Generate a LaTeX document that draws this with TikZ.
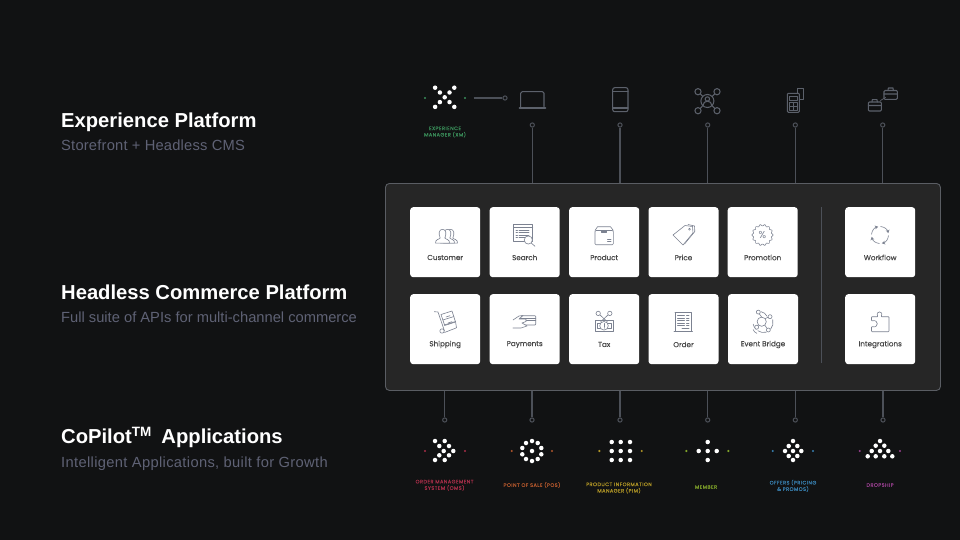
\documentclass[tikz,border=0pt]{standalone}
\usepackage{fontspec}
\setmainfont{Liberation Sans}
\newfontfamily\pop{Poppins}
\usetikzlibrary{arrows.meta,calc}
\definecolor{bgc}{HTML}{111213}
\definecolor{panelc}{HTML}{262626}
\definecolor{edgec}{HTML}{5A5D63}
\definecolor{linec}{HTML}{4C5058}
\definecolor{topic}{HTML}{5C616B}
\definecolor{tilei}{HTML}{7C8291}
\definecolor{subc}{HTML}{5F6275}
\definecolor{xmc}{HTML}{3A8F5A}
\definecolor{omsc}{HTML}{A82E49}
\definecolor{posc}{HTML}{B0562C}
\definecolor{pimc}{HTML}{B09526}
\definecolor{memc}{HTML}{80A32A}
\definecolor{offc}{HTML}{3880B0}
\definecolor{dropc}{HTML}{973F8E}
\tikzset{
  x=1pt,y=-1pt,
  heading/.style={anchor=base west,inner sep=0pt,text=white,font=\fontsize{20.2}{24}\selectfont\bfseries},
  subhead/.style={anchor=base west,inner sep=0pt,text=subc,font=\fontsize{14.7}{18}\selectfont},
  tile/.style={draw=none,fill=white,rounded corners=3pt,minimum width=70pt,minimum height=70pt,inner sep=0pt,anchor=north west},
  tilelabel/.style={inner sep=0pt,text=black!72,font=\pop\fontsize{7.2}{9}\selectfont\addfontfeature{FakeBold=0.3}},
  port/.style={circle,draw=linec,line width=1pt,fill=bgc,minimum size=4.2pt,inner sep=0pt},
  wire/.style={draw=linec,line width=1.4pt},
  logolabel/.style={inner sep=0pt,align=center,font=\pop\fontsize{5}{6.4}\selectfont\addfontfeature{FakeBold=0.15,LetterSpace=9}},
  ic/.style={draw=tilei,line width=.6pt,line join=round,line cap=round},
  ti/.style={draw=topic,line width=1.05pt,line join=round,line cap=round},
}
\newcommand{\wdots}[1]{\foreach \a/\b in {#1}{\fill[white] (\a,\b) circle (2.25);}}
\newcommand{\sdots}[4]{\fill[#1] (#2,#4) circle (1.2); \fill[#1] (#3,#4) circle (1.2);}
\begin{document}
\begin{tikzpicture}
\useasboundingbox (0,0) rectangle (960,540);
\fill[bgc] (0,0) rectangle (960,540);

% left texts
\node[heading] (h1) at (61,127.3) {Experience Platform};
\node[subhead] (s1) at (61,150.7) {\addfontfeature{LetterSpace=1.4}Storefront + Headless CMS};
\node[heading] (h2) at (61,299) {Headless Commerce Platform};
\node[subhead] (s2) at (61,322.3) {Full suite of APIs for multi-channel commerce};
\node[heading] (h3) at (61,443.3) {CoPilot\raisebox{6.5pt}{\fontsize{13.5}{13}\selectfont TM}\hspace{4.5pt} Applications};
\node[subhead] (s3) at (61,467.3) {\addfontfeature{LetterSpace=2.3}Intelligent Applications, built for Growth};

% panel
\node[draw=edgec,fill=panelc,line width=.9pt,rounded corners=4pt,minimum width=555pt,minimum height=207pt,inner sep=0pt,anchor=north west] (panel) at (385,183) {};
\node[inner sep=0pt,minimum width=0pt,minimum height=0pt] (septop) at (821.7,207) {};
\node[inner sep=0pt,minimum width=0pt,minimum height=0pt] (sepbot) at (821.7,363) {};
\draw[linec,line width=1.4pt] (septop) -- (sepbot);

% ports and wires
\foreach \n/\x in {t1/532.3,t2/620,t3/707.7,t4/795.3,t5/882.7}{
  \node[port] (\n) at (\x,125) {};
  \draw[wire] (\n) -- (\n |- panel.north);
}
\foreach \n/\x in {b1/444.7,b2/532,b3/620,b4/707.7,b5/795.3,b6/883}{
  \node[port] (\n) at (\x,420) {};
  \draw[wire] (\n |- panel.south) -- (\n);
}
\node[port] (xmp) at (505,98) {};
\node[inner sep=0pt] (xmw) at (473,98) {};
\draw[wire] (xmw) -- (xmp);

% tiles
\foreach \n/\x/\y/\l in {
 customer/410/207/Customer,search/489.5/207/Search,product/569/207/Product,price/648.3/207/Price,promotion/727.5/207/Promotion,workflow/845/207/Workflow,
 shipping/410/294/Shipping,payments/489.5/294/Payments,tax/569/294/Tax,order/648.3/294/Order,eventb/727.8/294/Event Bridge,integ/845/294/Integrations}{
  \node[tile] (\n) at (\x,\y) {};
  \node[tilelabel] (\n-l) at ($(\n.center)+(0,15.3)$) {\l};
}

% tile icons, row 1
\begin{scope}[shift={(444,235.8)}]
 \foreach \d in {6.5,3.5,-1.5}{
  \draw[ic,fill=white,xshift=\d pt] (-7,7.3) .. controls (-7.5,3.5) and (-3,3.5) .. (-2.3,2.2) .. controls (-4.3,-2) and (-3.5,-6.5) .. (0,-6.5) .. controls (3.5,-6.5) and (4.3,-2) .. (2.3,2.2) .. controls (3,3.5) and (7.5,3.5) .. (7,7.3) -- cycle;
 }
\end{scope}
\begin{scope}[shift={(524,235)}]
 \draw[ic] (-10.7,-10.7) rectangle (8.7,6.7);
 \draw[ic] (-10.7,-7.5) -- (8.7,-7.5);
 \foreach \y in {-5,-2.5,0,2.5}{\draw[ic] (-8,\y) -- (-6.5,\y); \draw[ic] (-5,\y) -- (5,\y);}
 \draw[ic,fill=white] (4.3,5) circle (4.1);
 \draw[ic] (7.2,8) -- (11,11.3);
\end{scope}
\begin{scope}[shift={(604,235)}]
 \draw[ic,rounded corners=1pt] (-9,-4.5) rectangle (9.3,9.7);
 \draw[ic] (-9,-4.5) -- (-6.5,-8.3) -- (6.5,-8.3) -- (9.3,-4.5);
 \draw[ic,fill=tilei] (-2.5,-4.5) rectangle (2.5,-2.8);
 \draw[ic] (3.5,4) -- (7,4) (3.5,6.5) -- (7,6.5);
\end{scope}
\begin{scope}[shift={(683,235)}]
 \draw[ic] (5,-10.5) -- (11.5,-9) -- (11.8,-3.5) -- (1.5,9);
 \draw[ic,fill=white] (-10,0) -- (2,-9.5) -- (9.5,-8.5) -- (10,-2) -- (0,10) -- cycle;
 \draw[ic] (6.5,-5.8) circle (1);
\end{scope}
\begin{scope}[shift={(762.5,235)}]
 \draw[ic] plot[domain=0:360,samples=145,smooth] (\x:{9.8+.75*cos(14*\x)}) -- cycle;
 \node[inner sep=0pt,text=tilei,font=\pop\fontsize{10}{10}\selectfont] (promopct) at (0,0) {\%};
\end{scope}
\begin{scope}[shift={(880,235)}]
 \foreach \s in {5,95,185,275}{
  \draw[ic,-{Stealth[length=3.2pt,width=3.8pt]}] (\s:8.5) arc[start angle=\s,delta angle=72,radius=8.5];
 }
\end{scope}

% tile icons, row 2
\begin{scope}[shift={(445,322)}]
 \draw[ic] (-10.7,-10.3) -- (-7,-10) -- (-.5,9);
 \draw[ic] (-3,9) circle (2.2);
 \draw[ic] (-.5,10.5) -- (11,6);
 \draw[ic] (-4,-7.5) -- (7,-11) -- (10.5,0) -- (-.3,3.5) -- cycle;
 \draw[ic] (-.8,3) -- (10.5,-.5) -- (11.5,5.8);
 \draw[ic] (-2.2,-2) -- (9,-5.5);
 \draw[ic] (1,-5) -- (5,-6.3) (3,1) -- (7,-.3);
\end{scope}
\begin{scope}[shift={(524,322)}]
 \draw[ic,rounded corners=.8pt,fill=white] (-3.3,-6.3) rectangle (11.7,3);
 \draw[ic] (-3.3,-3.5) -- (11.7,-3.5) (-3.3,-2.2) -- (11.7,-2.2);
 \draw[ic,fill=white] (-11,-2) -- (-5,-6) -- (-1,-6.5) -- (-5,-3) -- (2,-3) -- (2,-.5) -- (-2,1) -- (3,4) -- (-3,6) -- (-11,6);
\end{scope}
\begin{scope}[shift={(604,322)}]
 \draw[ic] (-9,-1.5) rectangle (9.3,9);
 \draw[ic] (-7,1) rectangle (7,6.7);
 \draw[ic,fill=white] (0,3.8) circle (4.3);
 \draw[ic] (0,1.5) -- (0,5) (0,6) -- (0,6.2);
 \draw[ic] (-5,-8) -- (3.5,0) (5,-8) -- (-3.5,0);
 \draw[ic,fill=white] (-5.8,-8.6) circle (2.2) (5.8,-8.6) circle (2.2);
\end{scope}
\begin{scope}[shift={(683,322)}]
 \draw[ic] (-8,-9.7) -- (8.7,-9.7) -- (8.7,9) (-8,-9.7) -- (-8,9);
 \draw[ic,line width=.9pt] (-9,9) -- (9.5,9);
 \foreach \y in {-6.5,-4,-1.5,1,3.5}{\draw[ic] (-5.5,\y) -- (1.5,\y); \draw[ic] (3.5,\y) -- (6,\y);}
 \draw[ic] (-1,6.3) -- (6,6.3);
\end{scope}
\begin{scope}[shift={(762.7,322.7)}]
 \draw[ic] (-1,-1) circle (4.6);
 \draw[ic] (-1.6,-11) arc[start angle=-80,delta angle=55,radius=8];
 \draw[ic] (10,-3) arc[start angle=-15,delta angle=55,radius=10.5];
 \draw[ic] (3.5,9.5) arc[start angle=75,delta angle=50,radius=10];
 \draw[ic] (-9.5,1.5) arc[start angle=170,delta angle=-40,radius=9];
 \draw[ic] (-9.5,7) arc[start angle=160,delta angle=-50,radius=6];
 \draw[ic] (-1,-5.6) -- (-3.5,-9) (2.3,-4) -- (5.5,-5.5) (-4.3,2) -- (-5,3) (2,2.5) -- (4.3,5.5);
 \draw[ic,fill=white] (-4.4,-10.6) circle (2);
 \draw[ic,fill=white] (7.3,-6) circle (2);
 \draw[ic,fill=white] (-6,4.5) circle (2);
 \draw[ic,fill=white] (5.6,7.3) circle (2);
\end{scope}
\begin{scope}[shift={(880,322)}]
 \draw[ic,rounded corners=.7pt] (-8.5,-5.3) -- (-2,-5.3) .. controls (-5,-11.5) and (4,-11.5) .. (1,-5.3) -- (9,-5.3) -- (9,9.7) -- (-8.5,9.7) -- (-8.5,4.5) .. controls (-1,6.5) and (-1,-3) .. (-8.5,-1) -- cycle;
\end{scope}

% top icons
\draw[ti,rounded corners=1.5pt] (520.7,106.7) -- (520.7,91.7) -- (544,91.7) -- (544,106.7);
\draw[ti,line width=1.9pt] (519.5,108) -- (545.3,108);
\draw[ti,rounded corners=2pt] (612.7,87.7) rectangle (628,111.7);
\draw[ti] (612.7,91.2) -- (628,91.2) (612.7,108) -- (628,108);
\draw[ti] (707.4,101) circle (6.5);
\draw[ti] (707.4,99) circle (2.2);
\draw[ti] (703,105.5) arc[start angle=180,delta angle=180,radius=4.4];
\foreach \a/\b in {698/91.7,717/91.7,698/110.7,717/110.7}{
  \draw[ti] (\a,\b) circle (3.1);
}
\draw[ti] (700.2,93.9) -- (702.8,96.5) (714.8,93.9) -- (712,96.5) (700.2,108.5) -- (702.8,105.6) (714.8,108.5) -- (712,105.6);
\draw[ti] (797.5,93) -- (797.5,88.3) -- (803.3,88.3) -- (803.3,99.3) -- (799.5,99.3);
\draw[ti,rounded corners=1pt] (787.3,93.3) rectangle (799.3,112.3);
\draw[ti,line width=.7pt] (789.5,96) rectangle (797.2,100.5);
\draw[ti,line width=.7pt] (789.5,102.5) rectangle (797.2,110);
\draw[ti,line width=.7pt] (793.3,102.5) -- (793.3,110) (789.5,106.2) -- (797.2,106.2);
\draw[ti,rounded corners=1pt] (884,90.5) rectangle (897.3,99.3);
\draw[ti] (888,90.5) -- (888.3,88) -- (893,88) -- (893.3,90.5) (884,94) -- (897.3,94);
\draw[ti,rounded corners=1pt] (868.3,102) rectangle (881.3,111);
\draw[ti] (872,102) -- (872.3,99.7) -- (877,99.7) -- (877.3,102) (868.3,105.5) -- (881.3,105.5);
\draw[ti,line width=.7pt] (880.5,100.5) -- (885.5,97.5);

% XM logo
\wdots{435.1/87.7,454.3/87.7,439.9/92.5,449.5/92.5,444.7/97.3,439.9/102.1,449.5/102.1,435.1/106.9,454.3/106.9}
\sdots{xmc}{425}{465}{98}
\node[logolabel,text=xmc] (xml) at (445,132) {EXPERIENCE\\MANAGER (XM)};

% CoPilot logos
\wdots{435/441,444.7/441,439.3/446,449/446,443.7/451,453.3/451,439.3/455.3,449/455.3,435/460,444.7/460}
\sdots{omsc}{425}{465}{451}
\node[logolabel,text=omsc] (omsl) at (444.5,485.3) {ORDER MANAGEMENT\\SYSTEM (OMS)};

\wdots{532/441,526/443,537.7/443,522.3/448,541.3/448,522.3/454.3,541.3/454.3,526/459,537.7/459,532/461,532/451}
\sdots{posc}{511.7}{552}{451}
\node[logolabel,text=posc] (posl) at (532,485) {POINT OF SALE (POS)};

\wdots{611.7/442,620.7/442,630/442,611.7/451,620.7/451,630/451,611.7/460,620.7/460,630/460}
\sdots{pimc}{599.3}{641.7}{451}
\node[logolabel,text=pimc] (piml) at (619,488) {PRODUCT INFORMATION\\MANAGER (PIM)};

\wdots{707.7/442,698.7/451,707.7/451,716.7/451,707.7/460}
\sdots{memc}{686.3}{728.3}{451}
\node[logolabel,text=memc] (meml) at (706,487) {MEMBER};

\wdots{793/441,788.7/446,797.3/446,785/451,793/451,801.3/451,788.7/456,797.3/456,793/460}
\sdots{offc}{772.7}{813}{451}
\node[logolabel,text=offc] (offl) at (793,485.8) {OFFERS (PRICING\\\& PROMOS)};

\wdots{880/441,875.7/445.7,884.3/445.7,871.7/451,880/451,888.3/451,867.7/456.3,875.7/456.3,884.3/456.3,892.3/456.3}
\sdots{dropc}{859.7}{900}{451}
\node[logolabel,text=dropc] (dropl) at (880,485) {DROPSHIP};
\end{tikzpicture}
\end{document}
